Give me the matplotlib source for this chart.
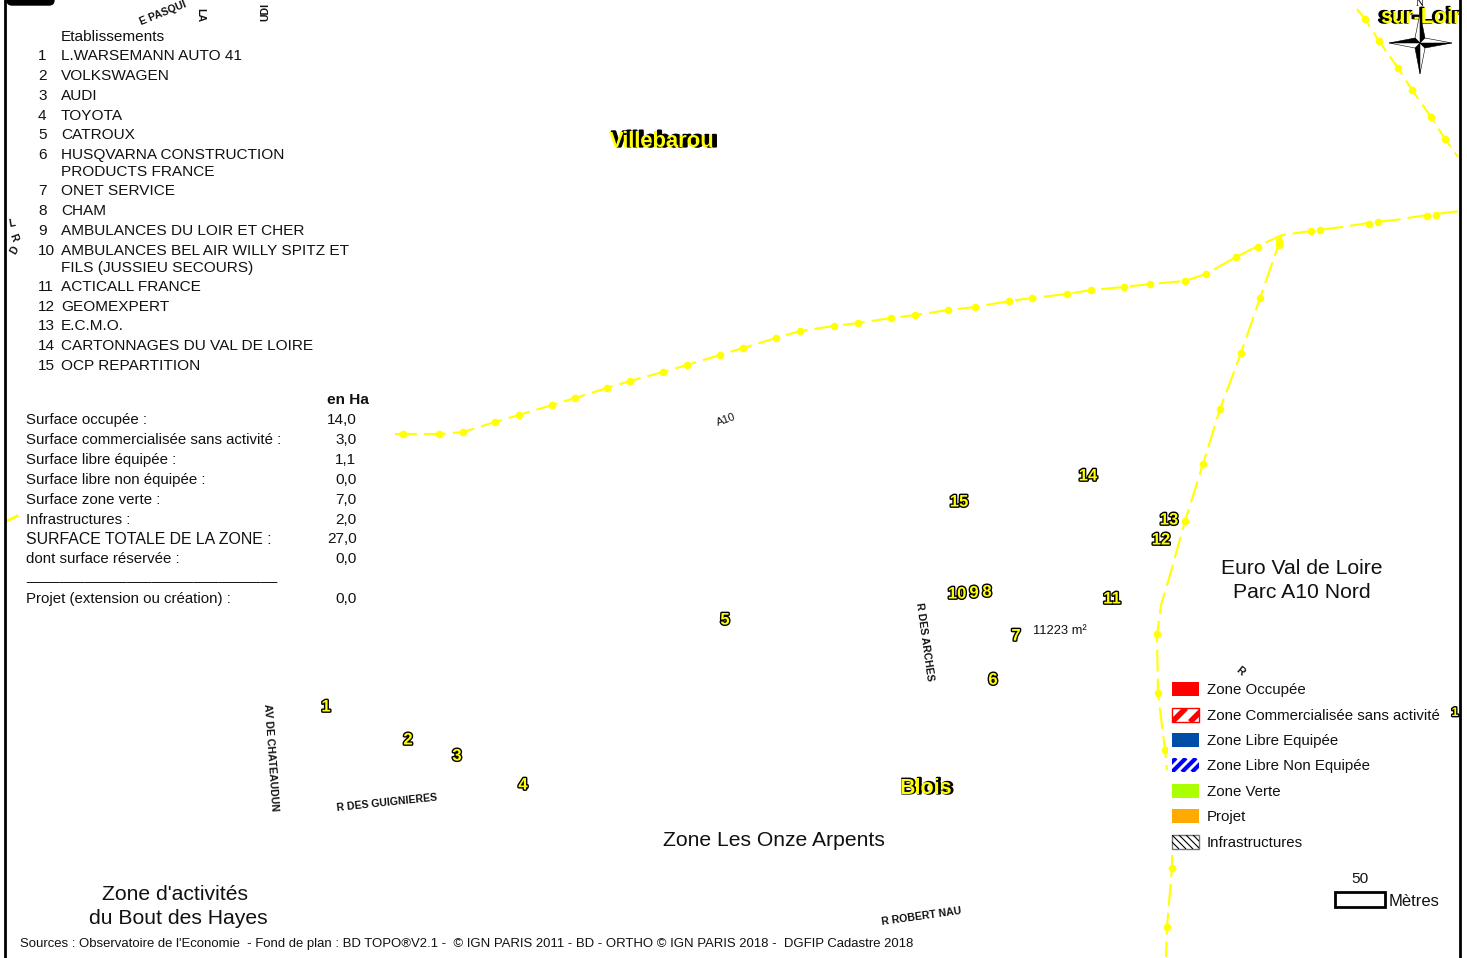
import matplotlib
matplotlib.use("Agg")
import matplotlib.pyplot as plt
import matplotlib.patheffects as pe
from matplotlib.patches import Rectangle, Polygon, FancyBboxPatch

W, H = 1467, 958

# etablissements
etab_num = ["1", "2", "3", "4", "5", "6", "7", "8", "9", "10", "11", "12", "13", "14", "15"]
etab_nom = ["L.WARSEMANN AUTO 41", "VOLKSWAGEN", "AUDI", "TOYOTA", "CATROUX",
            "HUSQVARNA CONSTRUCTION\nPRODUCTS FRANCE", "ONET SERVICE", "CHAM",
            "AMBULANCES DU LOIR ET CHER",
            "AMBULANCES BEL AIR WILLY SPITZ ET\nFILS (JUSSIEU SECOURS)",
            "ACTICALL FRANCE", "GEOMEXPERT", "E.C.M.O.",
            "CARTONNAGES DU VAL DE LOIRE", "OCP REPARTITION"]
etab_y = [55, 75, 95, 115, 134, 154, 190, 210, 230, 250, 286, 306, 325, 345, 365]

# surfaces
surf_nom = ["Surface occupée :", "Surface commercialisée sans activité :", "Surface libre équipée :",
            "Surface libre non équipée :", "Surface zone verte :", "Infrastructures :",
            "SURFACE TOTALE DE LA ZONE :", "dont surface réservée :",
            "______________________________", "Projet (extension ou création) :"]
surf_val = ["14,0", "3,0", "1,1", "0,0", "7,0", "2,0", "27,0", "0,0", "", "0,0"]
surf_y = [419, 439, 459, 479, 499, 519, 538, 558, 575, 598]

# numeros sur la carte
point_x = [326, 408, 457, 523, 725, 993, 1016, 987, 974, 957, 1112, 1161, 1169, 1088, 959]
point_y = [706, 739, 755, 784, 619, 679, 635, 591, 592, 593, 598, 539, 519, 475, 501]

# routes
a10_x = [395, 440, 463, 495, 519, 552, 575, 607, 630, 663, 687, 720, 743, 776, 800, 834, 858,
         891, 915, 948, 975, 1009, 1032, 1067, 1091, 1124, 1150, 1185, 1206, 1236, 1258, 1282,
         1318, 1342, 1375, 1395, 1427, 1460]
a10_y = [434, 434, 432, 422, 415, 405, 398, 388, 381, 372, 365, 355, 348, 338, 331, 326, 323,
         318, 315, 310, 307, 301, 298, 294, 290, 287, 284, 281, 274, 257, 246, 235,
         230, 227, 222, 220, 215, 211]
a10_dot_x = [403, 439, 463, 495, 519, 552, 575, 607, 630, 663, 687, 720, 743, 776, 800, 834, 858,
             891, 915, 948, 975, 1009, 1032, 1067, 1091, 1124, 1150, 1185, 1206, 1236, 1258,
             1311, 1320, 1369, 1378, 1427, 1436]
a10_dot_y = [434, 434, 432, 422, 415, 405, 398, 388, 381, 372, 365, 355, 348, 338, 331, 326, 323,
             318, 315, 310, 307, 301, 298, 294, 290, 287, 284, 281, 274, 257, 247,
             231, 230, 224, 222, 216, 215]
bretelle_x = [1282, 1260, 1241, 1220, 1203, 1185, 1170, 1161, 1157, 1158, 1165, 1167]
bretelle_y = [235, 298, 353, 409, 464, 521, 575, 605, 635, 693, 750, 770]
bretelle_dot_x = [1279, 1279, 1260, 1241, 1220, 1203, 1185, 1157, 1158, 1165]
bretelle_dot_y = [241, 245, 298, 353, 409, 464, 521, 634, 693, 750]
bas_x = [1172, 1172, 1167, 1166]
bas_y = [855, 868, 927, 957]
nord_x = [1357, 1365, 1379, 1398, 1412, 1431, 1445, 1458]
nord_y = [9, 19, 41, 68, 90, 117, 139, 157]

# legende
leg_nom = ["Zone Occupée", "Zone Commercialisée sans activité", "Zone Libre Equipée",
           "Zone Libre Non Equipée", "Zone Verte", "Projet", "Infrastructures"]
leg_y = [689, 715, 740, 765, 791, 816, 842]

# rues : nom, x, y, angle
rue_nom = ["R DES GUIGNIERES", "AV DE CHATEAUDUN", "R DES ARCHES", "R ROBERT NAU",
           "E PASQUI", "LA", "UDI", "R", "L", "R", "D"]
rue_x = [387, 271, 924, 921, 163, 200, 265, 1240, 12, 13, 15]
rue_y = [803, 757, 642, 916, 13, 15, 12, 671, 223, 238, 250]
rue_a = [6, -86, -82, 8, 22, -90, 90, -40, 10, -70, 60]

plt.rcParams["font.family"] = ["Liberation Sans", "DejaVu Sans"]
fig = plt.figure(figsize=(W / 100, H / 100), dpi=100)
ax = fig.add_axes([0, 0, 1, 1])
ax.set_xlim(0, W)
ax.set_ylim(H, 0)
ax.axis("off")

JAUNE = "#ffff00"
NOIR = "#111111"
FS = 11.1
DY = 1  # decalage vertical du texte


def route(x, y):
    ax.plot(x, y, color=JAUNE, lw=1.5, dashes=(10.5, 3.4), zorder=2)


route(a10_x, a10_y)
route(bretelle_x, bretelle_y)
route(bas_x, bas_y)
route(nord_x, nord_y)
ax.plot(a10_dot_x, a10_dot_y, "o", color=JAUNE, ms=5.5, mew=0, zorder=2)
ax.plot(bretelle_dot_x, bretelle_dot_y, "o", color=JAUNE, ms=5.5, mew=0, zorder=2)
ax.plot(bas_x[1:3], bas_y[1:3], "o", color=JAUNE, ms=5.5, mew=0, zorder=2)
ax.plot(nord_x[1:7], nord_y[1:7], "o", color=JAUNE, ms=5.5, mew=0, zorder=2)
ax.plot([7, 17], [521, 516], color=JAUNE, lw=2, zorder=2)

# liste
ax.text(61, 36 + DY, "Etablissements", fontsize=FS, va="center", color=NOIR)
for n, nom, y in zip(etab_num, etab_nom, etab_y):
    ax.text(38, y + DY, n, fontsize=FS, va="center", color=NOIR)
    if "\n" in nom:
        a, b = nom.split("\n")
        ax.text(61, y + DY, a, fontsize=FS, va="center", color=NOIR)
        ax.text(61, y + 17 + DY, b, fontsize=FS, va="center", color=NOIR)
    else:
        ax.text(61, y + DY, nom, fontsize=FS, va="center", color=NOIR)

# tableau
ax.text(327, 399 + DY, "en Ha", fontsize=FS, fontweight="bold", va="center", color=NOIR)
for nom, v, y in zip(surf_nom, surf_val, surf_y):
    fs = 11.4 if nom.isupper() else 10.8
    ax.text(26, y + DY, nom, fontsize=fs, va="center", color=NOIR)
    ax.text(356.5, y + DY, v, fontsize=FS, va="center", ha="right", color=NOIR)

# noms de zones
for t, x, y in [("Euro Val de Loire", 1302, 567), ("Parc A10 Nord", 1302, 591),
                ("Zone Les Onze Arpents", 774, 840), ("Zone d'activités", 175, 894),
                ("du Bout des Hayes", 178, 918)]:
    ax.text(x, y + DY, t, fontsize=15.25, ha="center", va="center", color=NOIR)

# rues
for t, x, y, a in zip(rue_nom, rue_x, rue_y, rue_a):
    ax.text(x, y, t, fontsize=7.6, fontweight="bold", rotation=a, rotation_mode="anchor",
            ha="center", va="center", color=NOIR, clip_on=True)
ax.text(726, 420, "A10", fontsize=8, rotation=20, rotation_mode="anchor", ha="center", va="center", color=NOIR)

# numeros
halo = [pe.withStroke(linewidth=2, foreground="black")]
for n, x, y in zip(etab_num, point_x, point_y):
    ax.text(x, y + DY, n, fontsize=12, fontweight="bold", ha="center", va="center", color=JAUNE,
            path_effects=halo, zorder=5)
ax.text(1033, 630 + DY, "11223 m²", fontsize=9.3, va="center", color=NOIR)

# villes : texte, x, y, taille, decalage noir, decalage jaune
villes = [("Villebarou", 663, 140, 15.8, 1.5, -1), ("Blois", 926, 787, 15.5, 1, -0.5), ("sur-Loir", 1420, 16, 15.5, -1, 1)]
for t, x, y, fs, dn, dj in villes:
    ax.text(x + dn, y + 1, t, fontsize=fs, fontweight="bold", ha="center", va="center", color="black",
            path_effects=[pe.withStroke(linewidth=1.6, foreground="black")], zorder=5, clip_on=True)
    ax.text(x + dj, y + 1, t, fontsize=fs, fontweight="bold", ha="center", va="center", color=JAUNE, zorder=6,
            clip_on=True)
ax.text(1455, 713, "1", fontsize=9, fontweight="bold", ha="center", va="center", color=JAUNE,
        path_effects=halo, zorder=5)

# legende
ax.add_patch(Rectangle((1168, 676), 289, 177, fc="white", ec="none", zorder=3))
SW_X, SW_W, SW_H = 1172, 27, 14


def swatch(y, fc, ec="none"):
    r = Rectangle((SW_X, y - SW_H / 2), SW_W, SW_H, fc=fc, ec=ec, lw=1, zorder=4)
    ax.add_patch(r)
    return r


def stripes(r, y, color, lw, pas, sens=1):
    for k in range(-3, 12):
        x0 = SW_X + k * pas
        line, = ax.plot([x0, x0 + sens * SW_H], [y + SW_H / 2, y - SW_H / 2], color=color, lw=lw,
                        solid_capstyle="butt", zorder=4.5)
        line.set_clip_path(r)


swatch(leg_y[0], "#ff0000")
r = swatch(leg_y[1], "white", "#ff0000")
stripes(r, leg_y[1], "#ff0000", 4, 18)
swatch(leg_y[2], "#004da8")
r = swatch(leg_y[3], "white")
stripes(r, leg_y[3], "#0000ff", 3, 10)
swatch(leg_y[4], "#aaff00")
swatch(leg_y[5], "#ffaa00")
r = swatch(leg_y[6], "white", "#777777")
stripes(r, leg_y[6], "black", 0.8, 7, sens=-1)
for t, y in zip(leg_nom, leg_y):
    ax.text(1207, y + DY, t, fontsize=10.8, va="center", color=NOIR, zorder=5)

# echelle
ax.add_patch(Rectangle((1335, 892), 50, 15, fc="white", ec="black", lw=2, zorder=4))
ax.text(1360, 879, "50", fontsize=FS, ha="center", va="center", color=NOIR)
ax.text(1389, 902, "Mètres", fontsize=12, va="center", color=NOIR)

# sources
ax.text(20, 944, "Sources : Observatoire de l'Economie  - Fond de plan : BD TOPO®V2.1 -  © IGN PARIS 2011 - "
        "BD - ORTHO © IGN PARIS 2018 -  DGFIP Cadastre 2018", fontsize=9.48, va="center", color=NOIR)

# rose des vents
cx, cy = 1420, 43
rose_n, rose_s, rose_o, rose_e, c = 30, 31, 31, 32, 5
ax.add_patch(Polygon([(cx, cy - rose_n), (cx + c, cy - c), (cx, cy)], fc="black", ec="black", lw=0.4, zorder=7))
ax.add_patch(Polygon([(cx, cy - rose_n), (cx - c, cy - c), (cx, cy)], fc="white", ec="black", lw=0.4, zorder=7))
ax.add_patch(Polygon([(cx, cy + rose_s), (cx - c, cy + c), (cx, cy)], fc="black", ec="black", lw=0.4, zorder=7))
ax.add_patch(Polygon([(cx, cy + rose_s), (cx + c, cy + c), (cx, cy)], fc="white", ec="black", lw=0.4, zorder=7))
ax.add_patch(Polygon([(cx - rose_o, cy), (cx - c, cy - c), (cx, cy)], fc="black", ec="black", lw=0.4, zorder=7))
ax.add_patch(Polygon([(cx - rose_o, cy), (cx - c, cy + c), (cx, cy)], fc="white", ec="black", lw=0.4, zorder=7))
ax.add_patch(Polygon([(cx + rose_e, cy), (cx + c, cy + c), (cx, cy)], fc="black", ec="black", lw=0.4, zorder=7))
ax.add_patch(Polygon([(cx + rose_e, cy), (cx + c, cy - c), (cx, cy)], fc="white", ec="black", lw=0.4, zorder=7))
ax.text(cx, 3, "N", fontsize=8, family="Liberation Serif", ha="center", va="center", zorder=7)

# cadre
ax.add_patch(Rectangle((1461, 0), 6, H, fc="white", ec="none", zorder=8))
ax.add_patch(Rectangle((0, 0), 4, H, fc="white", ec="none", zorder=8))
ax.plot([5, 5], [0, H], color="black", lw=2, zorder=9)
ax.plot([1460, 1460], [0, H], color="black", lw=2, zorder=9)
ax.add_patch(FancyBboxPatch((7, -20), 47, 25, boxstyle="round,pad=0,rounding_size=5", fc="black", ec="black",
                            lw=1, zorder=9, clip_on=True))

fig.savefig("out.png", dpi=100, facecolor="white")
